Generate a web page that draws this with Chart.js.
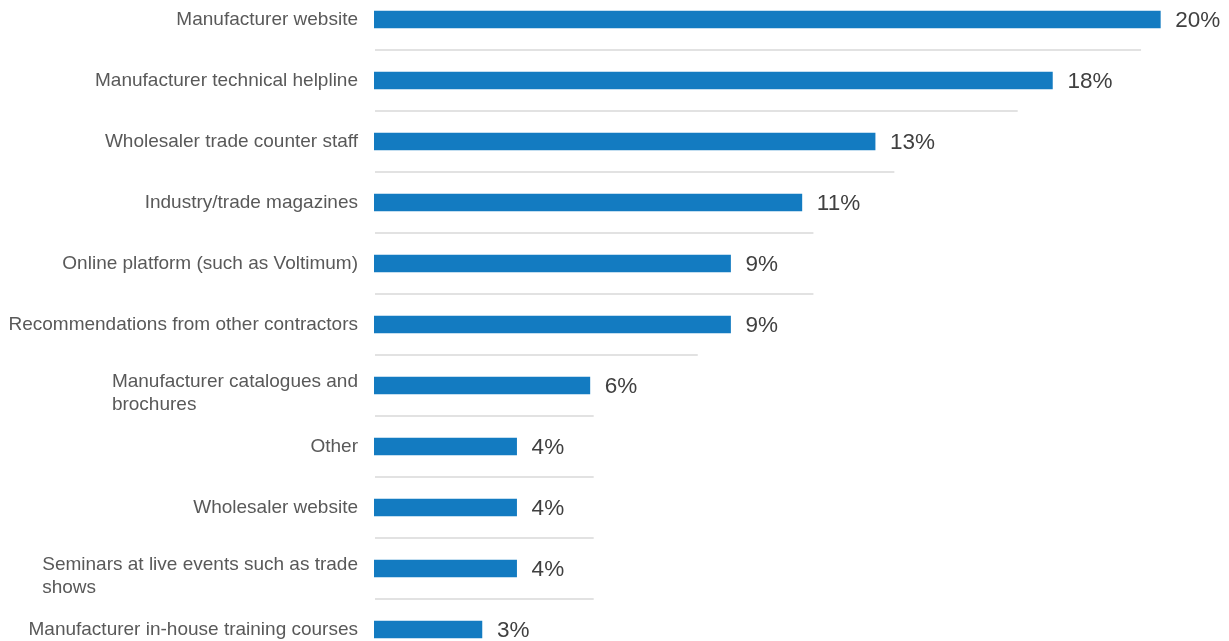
<html>
<head>
    <title>Information sources</title>
    <script src="https://cdn.jsdelivr.net/npm/chart.js"></script>
</head>
<style>
    body{
        margin: 0;
        background: #ffffff;
        overflow: hidden;
    }
    #wrap{
        position: absolute;
        left: 0;
        top: -11px;
        width: 1229px;
        height: 671px;
    }
</style>
<body>
<div id="wrap"><canvas id="chartCanvas" width="1229" height="671"></canvas></div>
</body>

<script>
// rows, top to bottom (arrays = wrapped labels)
const categories = [
    'Manufacturer website',
    'Manufacturer technical helpline',
    'Wholesaler trade counter staff',
    'Industry/trade magazines',
    'Online platform (such as Voltimum)',
    'Recommendations from other contractors',
    ['Manufacturer catalogues and', 'brochures'],
    'Other',
    'Wholesaler website',
    ['Seminars at live events such as trade', 'shows'],
    'Manufacturer in-house training courses'
];

// share of respondents, %
const shares = [20.4, 17.6, 13.0, 11.1, 9.25, 9.25, 5.6, 3.7, 3.7, 3.7, 2.8];

// how far each separator under a row runs, in % units of the value axis
const dividerEnds = [19.9, 16.7, 13.5, 11.4, 11.4, 8.4, 5.7, 5.7, 5.7, 5.7];

const axisMax = 22;

const labelFont = '19px "Liberation Sans", Arial, sans-serif';
const valueFont = '22.5px "Liberation Sans", Arial, sans-serif';

// thin grey rules between the rows
const dividers = {
    id: 'dividers',
    beforeDatasetsDraw(chart) {
        const ctx = chart.ctx;
        const x = chart.scales.x;
        const y = chart.scales.y;
        ctx.save();
        ctx.strokeStyle = '#d9d9d9';
        ctx.lineWidth = 1.5;
        dividerEnds.forEach((end, i) => {
            const yy = (y.getPixelForValue(i) + y.getPixelForValue(i + 1)) / 2;
            ctx.beginPath();
            ctx.moveTo(x.getPixelForValue(0) + 1, yy);
            ctx.lineTo(x.getPixelForValue(end), yy);
            ctx.stroke();
        });
        ctx.restore();
    }
};

// row names on the left, wrapped blocks kept left-aligned
const rowLabels = {
    id: 'rowLabels',
    afterDraw(chart) {
        const ctx = chart.ctx;
        const y = chart.scales.y;
        const right = chart.chartArea.left - 16;
        ctx.save();
        ctx.font = labelFont;
        ctx.fillStyle = '#595959';
        ctx.textBaseline = 'middle';
        ctx.textAlign = 'left';
        categories.forEach((c, i) => {
            const lines = Array.isArray(c) ? c : [c];
            const w = Math.max(...lines.map(l => ctx.measureText(l).width));
            const cy = y.getPixelForValue(i) - (lines.length > 1 ? 4 : 0);
            lines.forEach((l, k) => {
                ctx.fillText(l, right - w, cy + k * 23);
            });
        });
        ctx.restore();
    }
};

// rounded percentages at the bar ends
const valueLabels = {
    id: 'valueLabels',
    afterDatasetsDraw(chart) {
        const ctx = chart.ctx;
        const meta = chart.getDatasetMeta(0);
        ctx.save();
        ctx.font = valueFont;
        ctx.fillStyle = '#404040';
        ctx.textBaseline = 'middle';
        ctx.textAlign = 'left';
        meta.data.forEach((bar, i) => {
            ctx.fillText(Math.round(shares[i]) + '%', bar.x + 15, bar.y + 1);
        });
        ctx.restore();
    }
};

new Chart(document.getElementById('chartCanvas'), {
    type: 'bar',
    data: {
        labels: categories,
        datasets: [{
            data: shares,
            backgroundColor: '#137bc1',
            borderWidth: 0,
            barThickness: 17
        }]
    },
    options: {
        indexAxis: 'y',
        responsive: false,
        animation: false,
        layout: { padding: { left: 374, right: 7, top: 0, bottom: 0 } },
        plugins: {
            legend: { display: false },
            tooltip: { enabled: false }
        },
        scales: {
            x: { display: false, min: 0, max: axisMax },
            y: { display: false }
        }
    },
    plugins: [dividers, rowLabels, valueLabels]
});
</script>
</html>
